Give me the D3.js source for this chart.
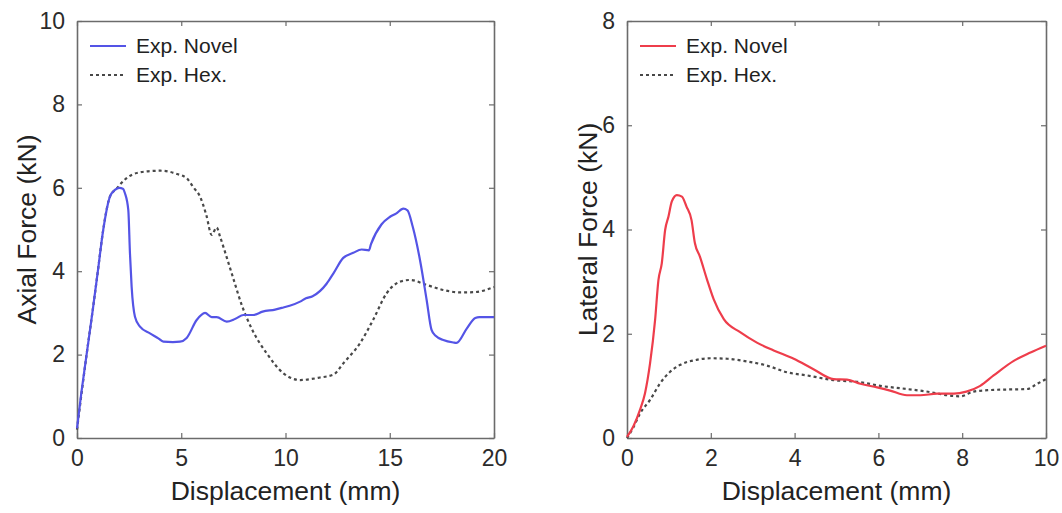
<!DOCTYPE html>
<html>
<head>
<meta charset="utf-8">
<script src="https://cdn.jsdelivr.net/npm/d3@7"></script>
<style>
  body { margin: 0; background: #fff; }
  text { font-family: "Liberation Sans", Arial, sans-serif; }
</style>
</head>
<body>
<div id="chart"></div>
<script>
// values

var legendLabels = ["Exp. Novel", "Exp. Hex."];

// left panel: axial force
var axialXTicks = [0, 5, 10, 15, 20];
var axialYTicks = [0, 2, 4, 6, 8, 10];
var axialNovelX = [0, 0.2, 0.46, 0.75, 1.0, 1.26, 1.58, 1.82, 2.03, 2.2, 2.3, 2.46, 2.54, 2.62, 2.78, 3.02, 3.5, 3.9, 4.14, 4.6, 4.94, 5.26, 5.74, 6.14, 6.46, 6.7, 7.18, 7.6, 7.98, 8.45, 8.9, 9.5, 9.9, 10.2, 10.7, 10.98, 11.3, 11.97, 12.3, 12.77, 13.25, 13.65, 14.0, 14.1, 14.6, 15.0, 15.3, 15.65, 15.85, 16.1, 16.45, 16.77, 17.0, 17.2, 17.57, 18.05, 18.2, 18.7, 19.1, 19.3, 20];
var axialNovelY = [0.23, 1.05, 2.0, 3.05, 4.0, 5.0, 5.79, 5.95, 6.0, 5.98, 5.87, 5.47, 4.43, 3.63, 2.91, 2.67, 2.51, 2.39, 2.31, 2.3, 2.31, 2.4, 2.83, 3.0, 2.9, 2.9, 2.79, 2.86, 2.95, 2.95, 3.03, 3.08, 3.13, 3.17, 3.27, 3.35, 3.4, 3.7, 3.95, 4.32, 4.44, 4.52, 4.5, 4.65, 5.12, 5.3, 5.38, 5.5, 5.46, 5.07, 4.27, 3.31, 2.6, 2.45, 2.35, 2.29, 2.28, 2.63, 2.88, 2.9, 2.9];
var axialHexX = [0, 0.2, 0.46, 0.75, 1.0, 1.26, 1.58, 1.9, 2.3, 3.0, 4.0, 4.8, 5.26, 5.6, 5.9, 6.2, 6.46, 6.7, 6.86, 7.2, 7.5, 7.9, 8.45, 9.1, 9.9, 10.7, 11.65, 12.3, 12.77, 13.57, 14.2, 14.85, 15.5, 15.97, 16.77, 17.57, 18.37, 19.1, 20];
var axialHexY = [0.2, 1.0, 2.0, 3.05, 4.0, 5.0, 5.79, 5.98, 6.2, 6.37, 6.41, 6.33, 6.23, 6.0, 5.79, 5.35, 4.87, 5.05, 4.83, 4.3, 3.82, 3.19, 2.55, 2.03, 1.55, 1.39, 1.45, 1.52, 1.79, 2.27, 2.83, 3.47, 3.75, 3.79, 3.67, 3.55, 3.49, 3.5, 3.62];

// right panel: lateral force
var lateralXTicks = [0, 2, 4, 6, 8, 10];
var lateralYTicks = [0, 2, 4, 6, 8];
var lateralNovelX = [0, 0.15, 0.31, 0.43, 0.55, 0.67, 0.75, 0.83, 0.91, 0.99, 1.07, 1.19, 1.31, 1.42, 1.54, 1.62, 1.74, 1.91, 2.07, 2.31, 2.7, 3.1, 3.5, 3.98, 4.45, 4.93, 5.25, 5.57, 5.97, 6.28, 6.68, 7.0, 7.4, 7.8, 8.1, 8.43, 8.75, 9.23, 9.63, 10];
var lateralNovelY = [0.02, 0.22, 0.54, 0.86, 1.43, 2.26, 3.03, 3.35, 3.99, 4.25, 4.54, 4.66, 4.63, 4.44, 4.18, 3.74, 3.48, 3.04, 2.66, 2.28, 2.03, 1.83, 1.68, 1.52, 1.32, 1.13, 1.12, 1.04, 0.97, 0.91, 0.82, 0.82, 0.85, 0.85, 0.89, 1.0, 1.2, 1.48, 1.64, 1.77];
var lateralHexX = [0, 0.15, 0.31, 0.55, 0.79, 1.03, 1.26, 1.66, 1.99, 2.39, 2.86, 3.34, 3.82, 4.3, 4.93, 5.57, 6.05, 6.68, 7.24, 7.64, 7.96, 8.27, 8.67, 9.07, 9.55, 9.79, 10];
var lateralHexY = [0, 0.2, 0.47, 0.73, 1.05, 1.27, 1.4, 1.5, 1.53, 1.52, 1.47, 1.39, 1.26, 1.2, 1.11, 1.07, 1.0, 0.94, 0.88, 0.82, 0.8, 0.89, 0.92, 0.93, 0.94, 1.04, 1.13];

var svgWidth = 1062;
var svgHeight = 513;

var svg = d3
  .select("#chart")
  .append("svg")
  .attr("width", svgWidth)
  .attr("height", svgHeight);

function zip(xs, ys) {
  return xs.map(function (x, i) { return { x: x, y: ys[i] }; });
}

function drawPanel(opts) {
  var g = svg.append("g").attr("transform", "translate(" + opts.left + "," + opts.top + ")");
  var w = opts.width;
  var h = opts.height;

  var xScale = d3.scaleLinear().domain(opts.xDomain).range([0, w]);
  var yScale = d3.scaleLinear().domain(opts.yDomain).range([h, 0]);

  // box with inward ticks on all four sides
  var tickLen = 5;
  var axes = [
    { gen: d3.axisBottom(xScale).tickValues(opts.xTicks).tickSizeInner(-tickLen).tickSizeOuter(0).tickPadding(12), t: "translate(0," + h + ")", labels: true },
    { gen: d3.axisTop(xScale).tickValues(opts.xTicks).tickSizeInner(-tickLen).tickSizeOuter(0), t: "translate(0,0)", labels: false },
    { gen: d3.axisLeft(yScale).tickValues(opts.yTicks).tickSizeInner(-tickLen).tickSizeOuter(0).tickPadding(12), t: "translate(0,0)", labels: true },
    { gen: d3.axisRight(yScale).tickValues(opts.yTicks).tickSizeInner(-tickLen).tickSizeOuter(0), t: "translate(" + w + ",0)", labels: false }
  ];
  axes.forEach(function (a) {
    var ax = g.append("g").attr("transform", a.t).call(a.gen);
    ax.select(".domain").attr("stroke", "#6b6b6b").attr("stroke-width", 1.6);
    ax.selectAll(".tick line").attr("stroke", "#6b6b6b").attr("stroke-width", 1.2);
    ax.selectAll(".tick text")
      .style("font-size", "23px")
      .style("font-family", "'Liberation Sans', Arial, sans-serif")
      .attr("fill", "#2b2b2b")
      .style("display", a.labels ? null : "none");
  });

  var line = d3.line()
    .x(function (d) { return xScale(d.x); })
    .y(function (d) { return yScale(d.y); })
    .curve(d3.curveMonotoneX);

  g.append("path")
    .datum(zip(opts.hexX, opts.hexY))
    .attr("fill", "none")
    .attr("stroke", "#484848")
    .attr("stroke-width", 2.2)
    .attr("stroke-dasharray", "3,3")
    .attr("d", line);

  g.append("path")
    .datum(zip(opts.novelX, opts.novelY))
    .attr("fill", "none")
    .attr("stroke", opts.color)
    .attr("stroke-width", 2.2)
    .attr("d", line);

  // legend
  var lg = g.append("g");
  var rows = [
    { label: legendLabels[0], color: opts.color, dash: null },
    { label: legendLabels[1], color: "#484848", dash: "3,3" }
  ];
  rows.forEach(function (r, i) {
    var yy = 25 + i * 29;
    lg.append("line")
      .attr("x1", opts.legendX).attr("x2", opts.legendX + 36)
      .attr("y1", yy).attr("y2", yy)
      .attr("stroke", r.color)
      .attr("stroke-width", 2)
      .attr("stroke-dasharray", r.dash);
    lg.append("text")
      .attr("x", opts.legendX + 46)
      .attr("y", yy)
      .attr("dy", "0.35em")
      .style("font-size", "21px")
      .attr("fill", "#222")
      .text(r.label);
  });

  // axis titles
  g.append("text")
    .attr("x", w / 2)
    .attr("y", h + 62)
    .style("text-anchor", "middle")
    .style("font-size", "26.5px")
    .attr("fill", "#222")
    .text("Displacement (mm)");

  g.append("text")
    .attr("transform", "translate(" + opts.yLabelX + "," + h / 2 + ") rotate(-90)")
    .attr("dy", "0.35em")
    .style("text-anchor", "middle")
    .style("font-size", "26.5px")
    .attr("fill", "#222")
    .text(opts.yLabel);
}

drawPanel({
  left: 77, top: 21, width: 417, height: 417,
  xDomain: [0, 20], yDomain: [0, 10],
  xTicks: axialXTicks, yTicks: axialYTicks,
  novelX: axialNovelX, novelY: axialNovelY,
  hexX: axialHexX, hexY: axialHexY,
  color: "#5454e6",
  legendX: 13,
  yLabel: "Axial Force (kN)", yLabelX: -50
});

drawPanel({
  left: 627, top: 21, width: 419, height: 417,
  xDomain: [0, 10], yDomain: [0, 8],
  xTicks: lateralXTicks, yTicks: lateralYTicks,
  novelX: lateralNovelX, novelY: lateralNovelY,
  hexX: lateralHexX, hexY: lateralHexY,
  color: "#ee3d4b",
  legendX: 13,
  yLabel: "Lateral Force (kN)", yLabelX: -39
});
</script>
</body>
</html>
